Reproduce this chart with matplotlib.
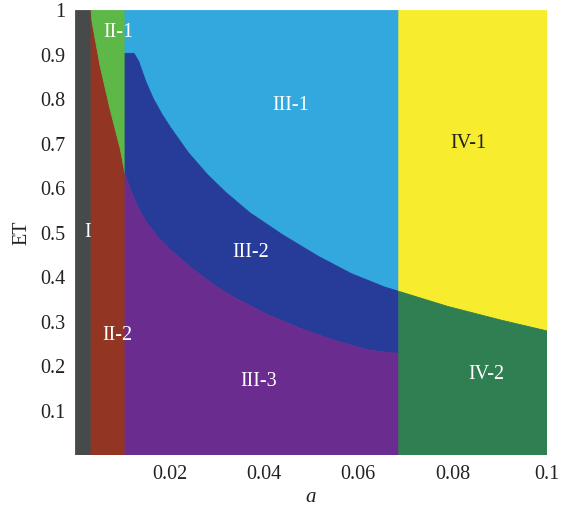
import numpy as np
import matplotlib.pyplot as plt

# region boundaries (a, ET)
a_I = 0.0034      # right edge of region I
a_II = 0.0106     # right edge of region II
a_III = 0.0686    # right edge of region III

# II-1 / II-2 boundary
b2_a = [0.0034, 0.0036, 0.0053, 0.0074, 0.0096, 0.0106]
b2_et = [1.0, 0.975, 0.876, 0.779, 0.688, 0.632]

# III-1 / III-2 boundary
u_a = [0.0106, 0.0125, 0.0135, 0.0150, 0.0166, 0.0185, 0.0202, 0.0240,
       0.0281, 0.0320, 0.0370, 0.0440, 0.0515, 0.0585, 0.0655, 0.0686]
u_et = [0.903, 0.903, 0.885, 0.840, 0.801, 0.765, 0.737, 0.680,
        0.630, 0.590, 0.545, 0.495, 0.447, 0.408, 0.378, 0.368]

# III-2 / III-3 boundary
l_a = [0.0106, 0.0117, 0.0132, 0.0149, 0.0174, 0.0202, 0.0238, 0.0266,
       0.0300, 0.0336, 0.0409, 0.0479, 0.0549, 0.0621, 0.0686]
l_et = [0.632, 0.598, 0.560, 0.527, 0.492, 0.462, 0.428, 0.405,
        0.378, 0.355, 0.315, 0.284, 0.258, 0.236, 0.228]

# IV-1 / IV-2 boundary
b4_a = [0.0686, 0.079, 0.090, 0.100]
b4_et = [0.368, 0.334, 0.304, 0.279]

labels = ["I", "II-1", "II-2", "III-1", "III-2", "III-3", "IV-1", "IV-2"]
label_a = [0.0026, 0.0091, 0.0089, 0.0457, 0.0372, 0.0390, 0.0834, 0.0872]
label_et = [0.50, 0.95, 0.268, 0.785, 0.456, 0.165, 0.70, 0.18]
label_col = ["white", "white", "white", "white", "white", "white", "#222222", "white"]

c_gray = "#464a4b"
c_red = "#923523"
c_green = "#5db847"
c_lblue = "#33a8de"
c_dblue = "#263c98"
c_purple = "#6a2d8f"
c_yellow = "#f7ec2d"
c_dgreen = "#2f7f53"

plt.rcParams['font.family'] = ['Liberation Serif', 'DejaVu Serif']

fig = plt.figure(figsize=(5.66, 5.09), dpi=100)
ax = fig.add_axes([0.1325, 0.106, 0.834, 0.874])


def poly(xs, ys, color):
    ax.fill(xs, ys, color=color, ec=color, lw=0.6)


# I
poly([0, a_I, a_I, 0], [0, 0, 1, 1], c_gray)
# II-2 and II-1
poly(b2_a + [a_II, a_I], b2_et + [0, 0], c_red)
poly(b2_a + [a_II], b2_et + [1], c_green)
# III
poly(u_a + [a_III, a_II], u_et + [1, 1], c_lblue)
poly(u_a + l_a[::-1], u_et + l_et[::-1], c_dblue)
poly(l_a + [a_III, a_II], l_et + [0, 0], c_purple)
# IV
poly(b4_a + [0.1, a_III], b4_et + [1, 1], c_yellow)
poly(b4_a + [0.1, a_III], b4_et + [0, 0], c_dgreen)

for t, x, y, c in zip(labels, label_a, label_et, label_col):
    ax.text(x, y, t, color=c, fontsize=14.5, ha="center", va="center")

ax.set_xlim(0, 0.1)
ax.set_ylim(0, 1)
xt = [0.02, 0.04, 0.06, 0.08, 0.1]
yt = [0.1, 0.2, 0.3, 0.4, 0.5, 0.6, 0.7, 0.8, 0.9, 1.0]
ax.set_xticks(xt)
ax.set_xticklabels(["0.02", "0.04", "0.06", "0.08", "0.1"])
ax.set_yticks(yt)
ax.set_yticklabels(["0.1", "0.2", "0.3", "0.4", "0.5", "0.6", "0.7", "0.8", "0.9", "1"])
ax.tick_params(length=0, labelsize=14.5, colors="#222222", pad=7)
for s in ax.spines.values():
    s.set_visible(False)
ax.set_xlabel("a", fontsize=15, style="italic", color="#222222", labelpad=3)
ax.set_ylabel("ET", fontsize=14.5, color="#222222", labelpad=6)

fig.savefig("out.png", dpi=100)
